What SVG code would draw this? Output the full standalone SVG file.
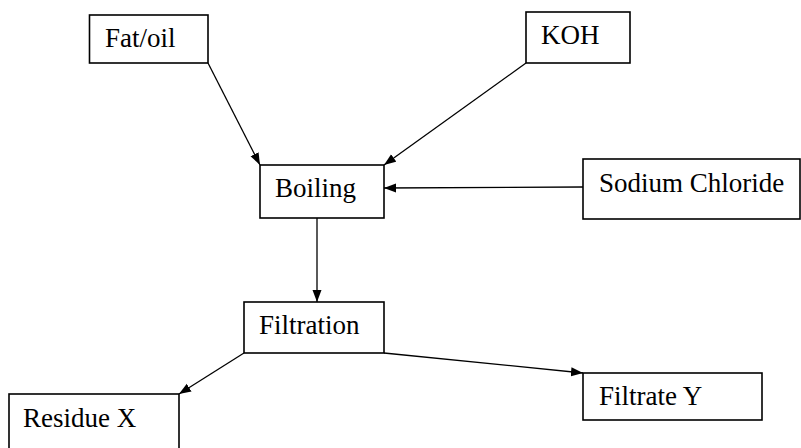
<svg xmlns="http://www.w3.org/2000/svg" width="801" height="448" viewBox="0 0 801 448">
<style>
.box{fill:#fff;stroke:#000;stroke-width:1.6}
.lbl{font-family:"Liberation Serif","Times New Roman",serif;font-size:27px;fill:#000}
.edge{stroke:#000;stroke-width:1.3;fill:none;marker-end:url(#ah)}
</style>
<defs>
<marker id="ah" markerUnits="userSpaceOnUse" markerWidth="13" markerHeight="10" refX="12" refY="5" orient="auto">
<path d="M0,0.5 L12,5 L0,9.5 Z" fill="#000"/>
</marker>
</defs>
<rect width="801" height="448" fill="#fff"/>
<g id="connectors">
<line class="edge" x1="208" y1="63" x2="260" y2="165"/>
<line class="edge" x1="526" y1="63" x2="384" y2="165"/>
<line class="edge" x1="583" y1="187" x2="384" y2="188"/>
<line class="edge" x1="317" y1="218" x2="317" y2="302"/>
<line class="edge" x1="244" y1="353" x2="179" y2="394"/>
<line class="edge" x1="384" y1="353" x2="583" y2="373"/>
</g>
<g id="fatoil"><rect class="box" x="89.5" y="15" width="118.5" height="48"/><text class="lbl" x="105" y="47">Fat/oil</text></g>
<g id="koh"><rect class="box" x="526" y="12" width="104" height="51"/><text class="lbl" x="541" y="44">KOH</text></g>
<g id="boiling"><rect class="box" x="260" y="165" width="124" height="53"/><text class="lbl" x="275" y="197">Boiling</text></g>
<g id="sodium"><rect class="box" x="583" y="159" width="217" height="60"/><text class="lbl" x="599" y="192">Sodium Chloride</text></g>
<g id="filtration"><rect class="box" x="244" y="302" width="140" height="51"/><text class="lbl" x="259" y="334">Filtration</text></g>
<g id="residue"><rect class="box" x="9" y="394" width="170" height="60"/><text class="lbl" x="23" y="427">Residue X</text></g>
<g id="filtrate"><rect class="box" x="583" y="373" width="179" height="47"/><text class="lbl" x="599" y="405">Filtrate Y</text></g>
</svg>
